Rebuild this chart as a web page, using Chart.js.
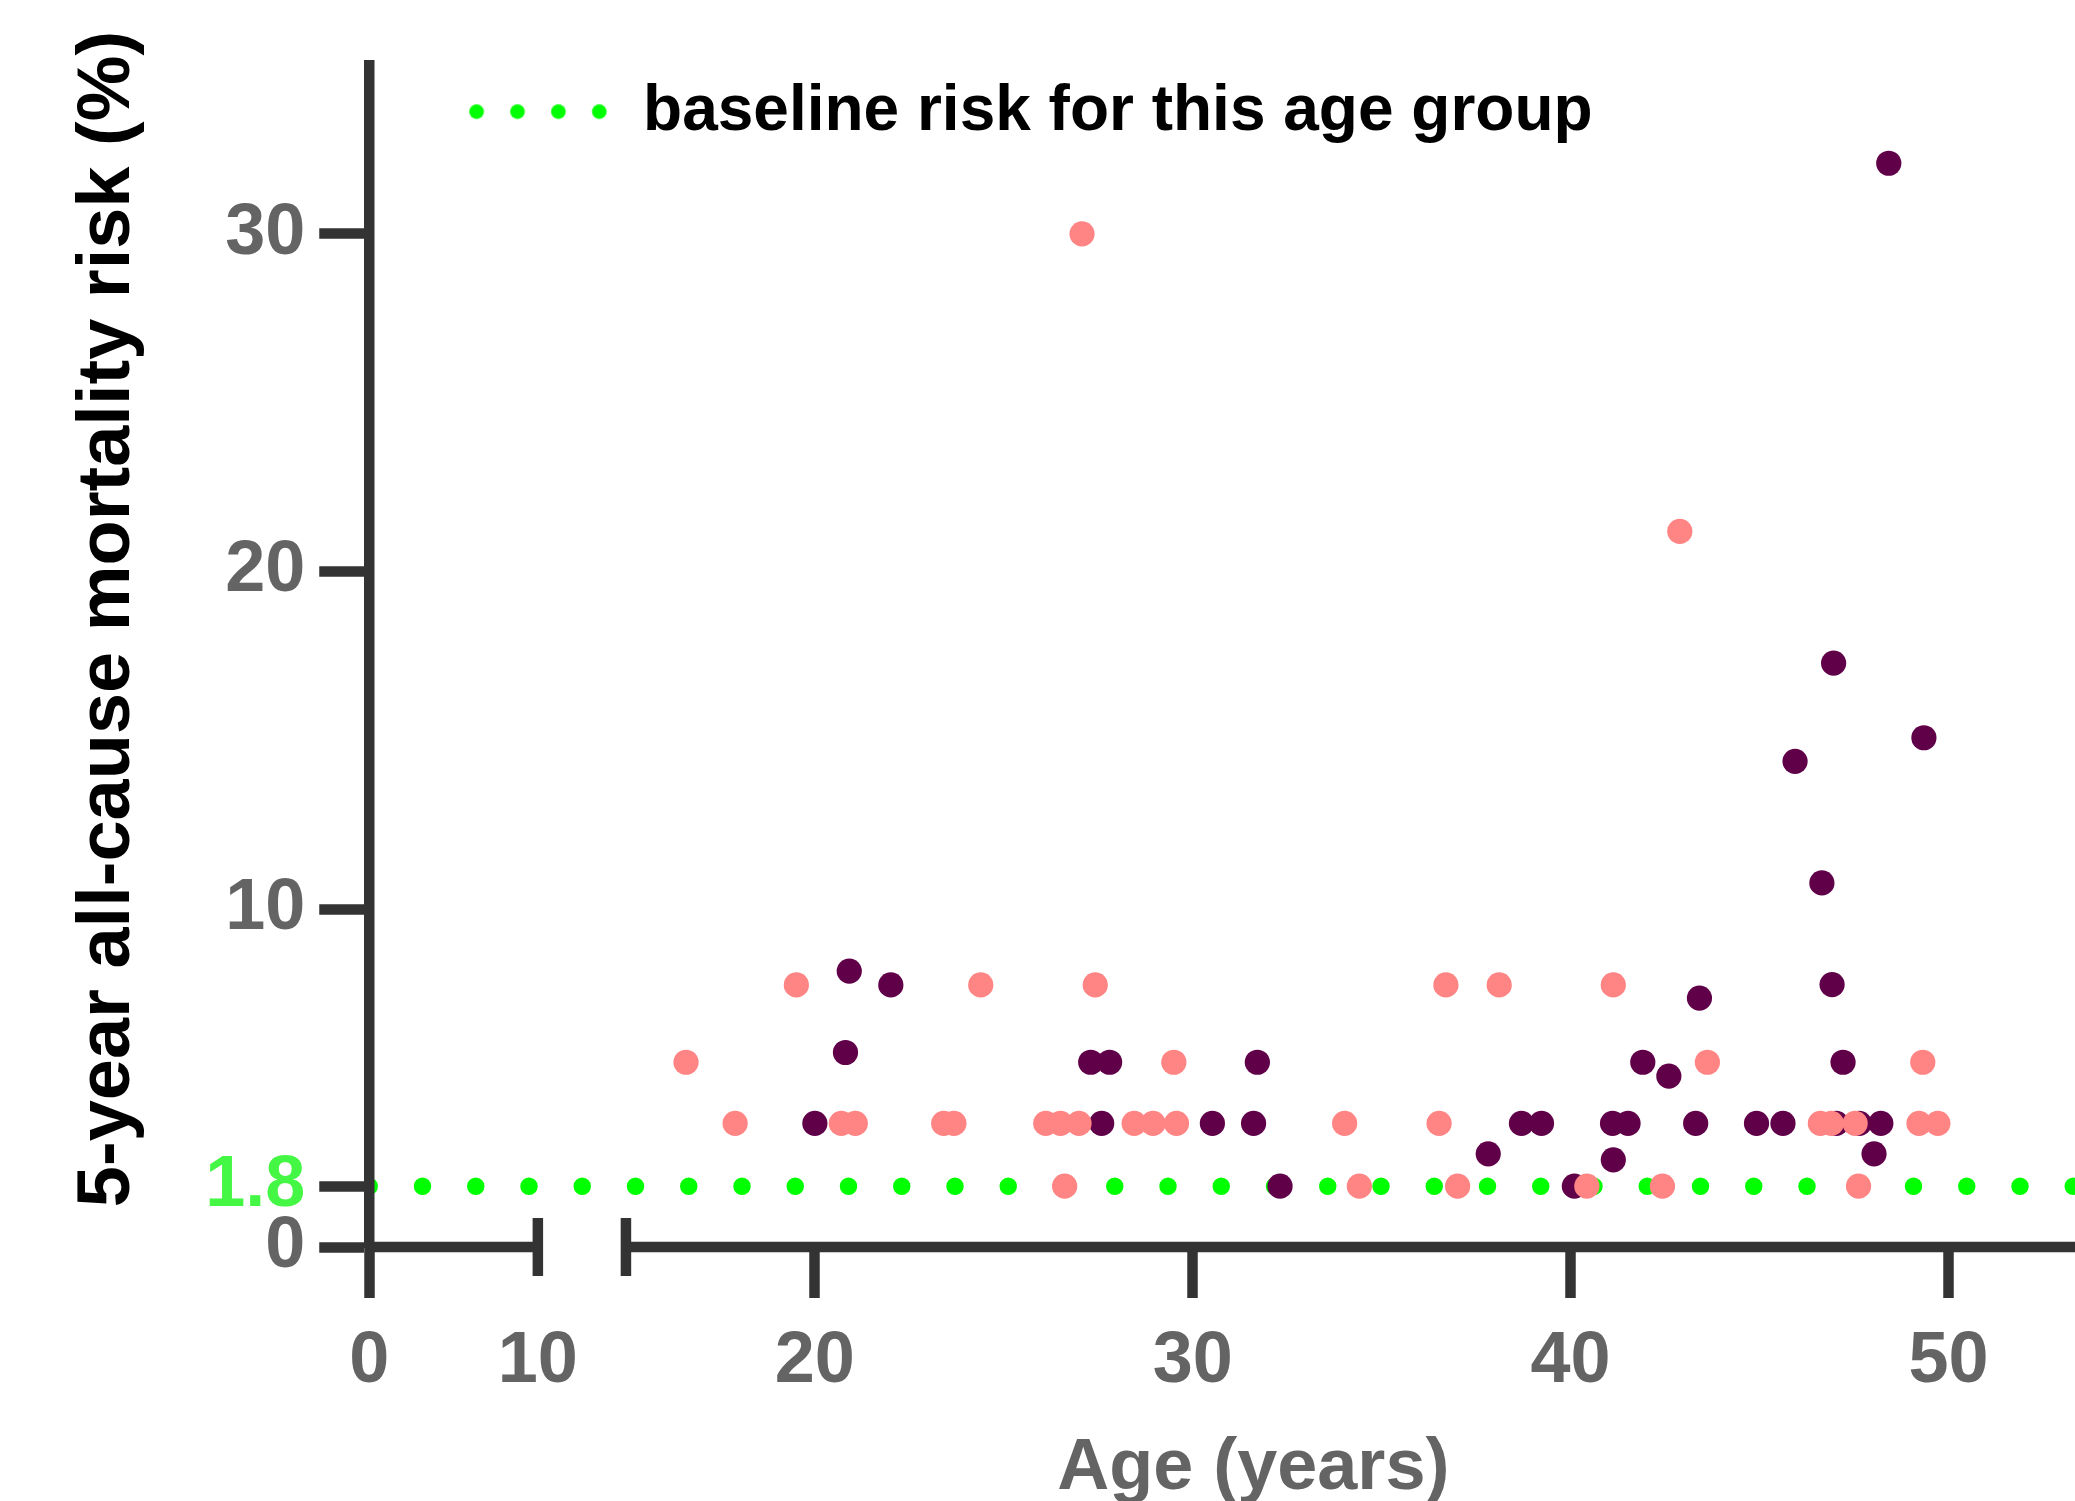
<!DOCTYPE html>
<html>
<head>
<meta charset="utf-8">
<title>5-year all-cause mortality risk by age</title>
<script src="https://cdn.jsdelivr.net/npm/chart.js@4.4.1/dist/chart.umd.min.js"></script>
<style>
  html, body { margin: 0; padding: 0; background: #fff; overflow: hidden; }
  canvas { display: block; }
</style>
</head>
<body>
<canvas id="riskChart" width="2150" height="1540"></canvas>
<script>
// tick values
const xTicks = [0, 10, 20, 30, 40, 50];
const yTicks = [0, 1.8, 10, 20, 30];

// baseline risk for this age group (%)
const baselineRisk = 1.8;
const baselineAges = [0, 55];

// dark purple group: age (years) / 5-year risk (%)
const darkAge = [20.00, 20.81, 20.91, 22.01, 27.30, 27.59, 27.80, 30.52, 31.61, 31.71,
  32.31, 37.82, 38.70, 39.23, 40.10, 41.11, 41.13, 41.52, 41.91, 42.60,
  43.31, 43.41, 44.92, 45.62, 45.94, 46.65, 46.92, 46.96, 47.03, 47.21,
  47.64, 48.03, 48.21, 48.42, 49.35];
const darkRisk = [3.66, 5.76, 8.17, 7.76, 5.47, 3.66, 5.47, 3.66, 3.66, 5.47,
  1.8, 2.76, 3.66, 3.66, 1.8, 3.66, 2.58, 3.66, 5.47, 5.06,
  3.66, 7.37, 3.66, 3.66, 14.38, 10.78, 7.77, 17.29, 3.66, 5.47,
  3.66, 2.76, 3.66, 32.09, 15.08];

// light pink group
const lightAge = [16.59, 17.89, 19.51, 20.70, 21.07, 23.41, 23.68, 24.39, 26.11, 26.50,
  26.61, 26.99, 27.07, 27.42, 28.45, 28.95, 29.50, 29.57, 34.02, 34.41,
  36.52, 36.70, 37.01, 38.11, 40.43, 41.13, 42.43, 42.89, 43.62, 46.61,
  46.90, 47.53, 47.62, 49.22, 49.32, 49.72];
const lightRisk = [5.47, 3.66, 7.76, 3.66, 3.66, 3.66, 3.66, 7.76, 3.66, 3.66,
  1.8, 3.66, 30.0, 7.76, 3.66, 3.66, 5.47, 3.66, 3.66, 1.8,
  3.66, 7.76, 1.8, 7.76, 1.8, 7.76, 1.8, 21.19, 5.47, 3.66,
  3.66, 3.66, 1.8, 3.66, 5.47, 3.66];

// x axis break (0-10 squeezed, 10-15 cut out)
const BREAK_FROM = 10;
const BREAK_TO = 15;
const LOW_SCALE = 0.4462;
const BREAK_GAP = 2.331;

const FONT = "'Liberation Sans', Arial, sans-serif";
const AXIS_COLOR = '#333333';
const AXIS_WIDTH = 10.5;
const TICK_GREY = '#646464';
const GREEN = '#00ff00';
const GREEN_LABEL = '#44f744';
const DARK = '#600049';
const LIGHT = '#ff8484';

class BrokenLinearScale extends Chart.LinearScale {
  toUnits(v) {
    const low = BREAK_FROM * LOW_SCALE;
    if (v <= BREAK_FROM) return v * LOW_SCALE;
    if (v >= BREAK_TO) return low + BREAK_GAP + (v - BREAK_TO);
    return low + (v - BREAK_FROM) / (BREAK_TO - BREAK_FROM) * BREAK_GAP;
  }
  fromUnits(u) {
    const low = BREAK_FROM * LOW_SCALE;
    if (u <= low) return u / LOW_SCALE;
    if (u >= low + BREAK_GAP) return u - low - BREAK_GAP + BREAK_TO;
    return BREAK_FROM + (u - low) / BREAK_GAP * (BREAK_TO - BREAK_FROM);
  }
  getPixelForValue(value) {
    if (value === null || isNaN(value)) return NaN;
    const u0 = this.toUnits(this.min);
    const u1 = this.toUnits(this.max);
    return this.getPixelForDecimal((this.toUnits(value) - u0) / (u1 - u0));
  }
  getValueForPixel(pixel) {
    const u0 = this.toUnits(this.min);
    const u1 = this.toUnits(this.max);
    return this.fromUnits(u0 + this.getDecimalForPixel(pixel) * (u1 - u0));
  }
}
BrokenLinearScale.id = 'brokenLinear';
BrokenLinearScale.defaults = {};
Chart.register(BrokenLinearScale);

// x axis line with the gap and the two break bars
const axisBreakPlugin = {
  id: 'axisBreak',
  afterDatasetsDraw(chart) {
    const { ctx, chartArea } = chart;
    const x = chart.scales.x;
    const y0 = chartArea.bottom;
    const p1 = x.getPixelForValue(BREAK_FROM);
    const p2 = x.getPixelForValue(BREAK_TO);
    ctx.save();
    ctx.strokeStyle = AXIS_COLOR;
    ctx.lineWidth = AXIS_WIDTH;
    ctx.lineCap = 'butt';
    ctx.beginPath();
    ctx.moveTo(x.getPixelForValue(0), y0);
    ctx.lineTo(p1 + AXIS_WIDTH / 2, y0);
    ctx.moveTo(p2 - AXIS_WIDTH / 2, y0);
    ctx.lineTo(chartArea.right + 20, y0);
    ctx.moveTo(p1, y0 - 29);
    ctx.lineTo(p1, y0 + 29);
    ctx.moveTo(p2, y0 - 29);
    ctx.lineTo(p2, y0 + 29);
    ctx.stroke();
    ctx.restore();
  }
};

// four green dots for the legend swatch
function legendDots() {
  const c = document.createElement('canvas');
  c.width = 162;
  c.height = 40;
  const g = c.getContext('2d');
  g.fillStyle = GREEN;
  for (let i = 0; i < 4; i++) {
    g.beginPath();
    g.arc(27.3 + i * 40.9, 19.4, 7.3, 0, Math.PI * 2);
    g.fill();
  }
  return c;
}

const toPoints = (ages, risks) => ages.map((a, i) => ({ x: a, y: risks[i] }));

const ctx = document.getElementById('riskChart').getContext('2d');
new Chart(ctx, {
  type: 'scatter',
  data: {
    datasets: [
      {
        label: 'group B',
        data: toPoints(lightAge, lightRisk),
        backgroundColor: LIGHT,
        pointRadius: 12.6,
        pointBorderWidth: 0,
        order: 0
      },
      {
        label: 'group A',
        data: toPoints(darkAge, darkRisk),
        backgroundColor: DARK,
        pointRadius: 12.6,
        pointBorderWidth: 0,
        order: 1
      },
      {
        type: 'line',
        label: 'baseline risk for this age group',
        data: baselineAges.map(a => ({ x: a, y: baselineRisk })),
        showLine: true,
        borderColor: GREEN,
        backgroundColor: GREEN,
        borderWidth: 17.5,
        borderDash: [0, 53.25],
        borderCapStyle: 'round',
        pointRadius: 0,
        fill: false,
        order: 2
      }
    ]
  },
  options: {
    responsive: false,
    animation: false,
    events: [],
    layout: { padding: { top: 65, right: 8, bottom: 0, left: 0 } },
    plugins: {
      tooltip: { enabled: false },
      legend: {
        position: 'chartArea',
        align: 'start',
        labels: {
          filter: item => item.datasetIndex === 2,
          usePointStyle: true,
          pointStyle: legendDots(),
          pointStyleWidth: 161.5,
          padding: 80.3,
          color: '#000',
          font: { family: FONT, size: 64, weight: 'bold' }
        }
      }
    },
    scales: {
      x: {
        type: 'brokenLinear',
        min: 0,
        max: 55,
        afterBuildTicks: s => { s.ticks = xTicks.map(v => ({ value: v })); },
        afterFit: s => { s.height = 293; },
        border: { display: false },
        grid: {
          drawOnChartArea: false,
          drawTicks: true,
          tickLength: 51,
          tickWidth: AXIS_WIDTH,
          tickColor: c => (c.tick && c.tick.value === BREAK_FROM) ? 'rgba(0,0,0,0)' : AXIS_COLOR
        },
        ticks: {
          autoSkip: false,
          maxRotation: 0,
          minRotation: 0,
          padding: 21,
          color: TICK_GREY,
          font: { family: FONT, size: 72, weight: 'bold' },
          callback: v => String(v)
        },
        title: {
          display: true,
          text: 'Age (years)',
          color: TICK_GREY,
          padding: { top: 0, bottom: 28 },
          font: { family: FONT, size: 72, weight: 'bold' }
        }
      },
      y: {
        type: 'linear',
        min: 0,
        max: 35,
        afterBuildTicks: s => { s.ticks = yTicks.map(v => ({ value: v })); },
        afterFit: s => { s.width = 369.25; },
        border: { display: true, color: AXIS_COLOR, width: AXIS_WIDTH, z: 1 },
        grid: {
          z: 1,
          drawOnChartArea: false,
          drawTicks: true,
          tickLength: 50,
          tickWidth: AXIS_WIDTH,
          tickColor: AXIS_COLOR
        },
        ticks: {
          autoSkip: false,
          padding: 14,
          color: c => (c.tick && c.tick.value === baselineRisk) ? GREEN_LABEL : TICK_GREY,
          font: { family: FONT, size: 72, weight: 'bold' },
          callback: v => String(v)
        },
        title: {
          display: true,
          text: '\u2002\u20025-year all-cause mortality risk (%)',
          color: '#000',
          padding: { top: 64, bottom: 0 },
          font: { family: FONT, size: 74, weight: 'bold' }
        }
      }
    }
  },
  plugins: [axisBreakPlugin]
});
</script>
</body>
</html>
